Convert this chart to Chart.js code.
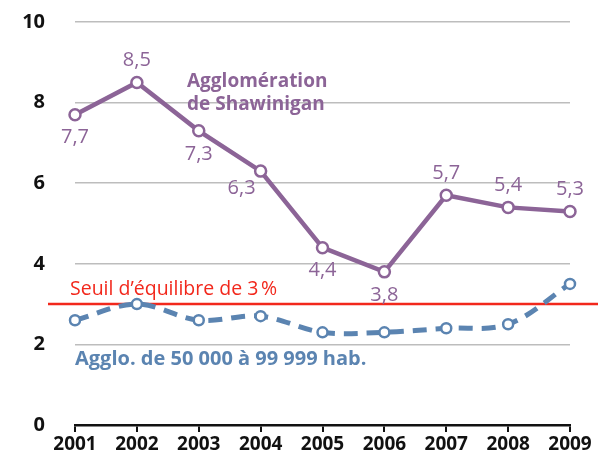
<!DOCTYPE html>
<html>
<head>
<meta charset="utf-8">
<script src="https://cdn.jsdelivr.net/npm/chart.js@4/dist/chart.umd.min.js"></script>
<style>
  html, body { margin: 0; padding: 0; background: #fff; }
  #wrap { width: 598px; height: 456px; }
</style>
</head>
<body>
<div id="wrap"><canvas id="myChart" width="598" height="456"></canvas></div>
<script>
// data
const years = ["2001", "2002", "2003", "2004", "2005", "2006", "2007", "2008", "2009"];
const shawinigan = [7.7, 8.5, 7.3, 6.3, 4.4, 3.8, 5.7, 5.4, 5.3];
const agglo50k = [2.6, 3.0, 2.6, 2.7, 2.3, 2.3, 2.4, 2.5, 3.5];
const seuil = 3;
const yTicks = [0, 2, 4, 6, 8, 10];

const purple = "#8c6497";
const blue = "#5b84b1";
const red = "#f2281c";
const font = "'Open Sans', 'Liberation Sans', sans-serif";

// where each value label sits round its point
const labelPos = ["below", "above", "below", "left", "below", "below", "above", "above", "above"];

// format 7.7 -> 7,7
function formatValue(v) {
  return v.toFixed(1).replace(".", ",");
}

const extras = {
  id: "extras",
  beforeDatasetsDraw(chart) {
    const ctx = chart.ctx;
    const y = chart.scales.y.getPixelForValue(seuil);
    ctx.save();
    ctx.strokeStyle = red;
    ctx.lineWidth = 2.5;
    ctx.beginPath();
    ctx.moveTo(48, y);
    ctx.lineTo(chart.width, y);
    ctx.stroke();
    ctx.restore();
  },
  afterDatasetsDraw(chart) {
    const ctx = chart.ctx;
    const meta = chart.getDatasetMeta(0);
    ctx.save();
    ctx.font = "20px " + font;
    ctx.fillStyle = purple;
    ctx.textAlign = "center";
    ctx.textBaseline = "middle";
    meta.data.forEach((pt, i) => {
      let x = pt.x, y = pt.y;
      if (labelPos[i] === "above") y -= 22;
      else if (labelPos[i] === "below") y += 23;
      else { x -= 19; y += 17; }
      ctx.fillText(formatValue(shawinigan[i]), x, y);
    });

    // series names
    ctx.textAlign = "left";
    ctx.textBaseline = "alphabetic";
    ctx.font = "bold 19px " + font;
    ctx.fillText("Agglomération", 187, 87);
    ctx.fillText("de Shawinigan", 187, 110);

    ctx.fillStyle = blue;
    ctx.font = "bold 20px " + font;
    ctx.fillText("Agglo. de 50 000 à 99 999 hab.", 75, 365);

    ctx.fillStyle = red;
    ctx.font = "19.5px " + font;
    ctx.fillText("Seuil d\u2019équilibre de 3\u202f%", 70, 295);
    ctx.restore();
  }
};

const ctx = document.getElementById("myChart").getContext("2d");
const myChart = new Chart(ctx, {
  type: "line",
  data: {
    labels: years,
    datasets: [
      {
        data: shawinigan,
        borderColor: purple,
        borderWidth: 4.5,
        pointRadius: 5.5,
        pointBorderWidth: 2.5,
        pointBackgroundColor: "#fff",
        pointBorderColor: purple,
        tension: 0
      },
      {
        data: agglo50k,
        borderColor: blue,
        borderWidth: 5,
        borderDash: [14, 9],
        pointRadius: 5,
        pointBorderWidth: 2.5,
        pointBackgroundColor: "#fff",
        pointBorderColor: blue,
        tension: 0.35
      }
    ]
  },
  options: {
    responsive: false,
    animation: false,
    layout: { padding: { top: 22, right: 28, left: 0, bottom: 0 } },
    plugins: { legend: { display: false }, tooltip: { enabled: false } },
    scales: {
      x: {
        offset: false,
        border: { display: true, color: "#111", width: 2.5 },
        grid: { drawOnChartArea: false, drawTicks: true, tickLength: 7, color: "#111", lineWidth: 2 },
        ticks: { color: "#111", padding: 1, font: { family: font, size: 19, weight: "bold" } },
        afterFit(scale) { scale.height = 31; }
      },
      y: {
        min: 0,
        max: 10,
        afterBuildTicks(scale) { scale.ticks = yTicks.map(v => ({ value: v })); },
        border: { display: false },
        grid: { drawTicks: true, tickLength: 26, tickColor: "rgba(0,0,0,0)", color: "#bdbdbd", lineWidth: 1.5 },
        ticks: { color: "#111", padding: 4, font: { family: font, size: 20, weight: "bold" } },
        afterFit(scale) { scale.width = 75; }
      }
    }
  },
  plugins: [extras]
});
</script>
</body>
</html>
